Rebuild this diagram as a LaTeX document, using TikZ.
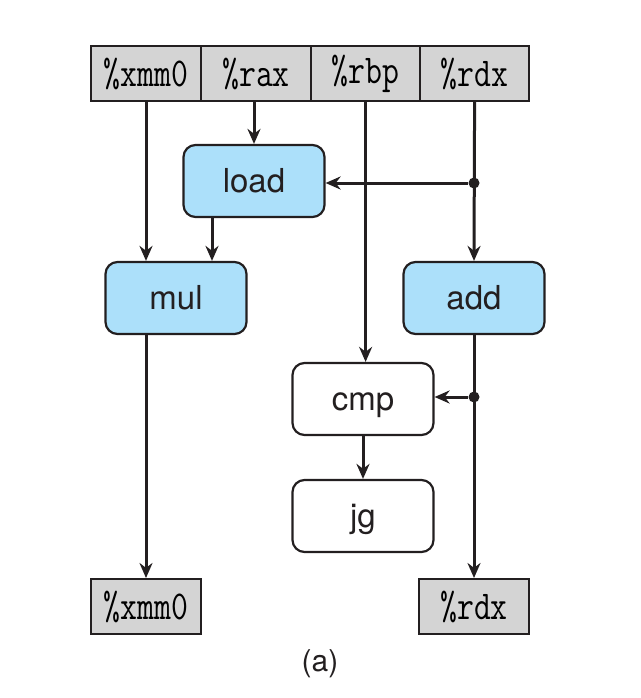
\documentclass[tikz,border=0pt]{standalone}
\usepackage{fontspec}
\setsansfont{TeX Gyre Heros}
\usetikzlibrary{arrows.meta,positioning}
\definecolor{opblue}{RGB}{172,224,250}
\definecolor{reggray}{RGB}{212,212,212}
\definecolor{ink}{RGB}{35,31,32}
\newcommand{\regtxt}[1]{\scalebox{0.8}[1]{\fontsize{41}{41}\selectfont\ttfamily #1}}
\begin{document}
\begin{tikzpicture}[x=1pt,y=-1pt,
  reg/.style={draw=ink,line width=2.2pt,fill=reggray,inner sep=0pt,anchor=north west},
  opbox/.style={draw=ink,line width=2.2pt,rounded corners=12pt,inner sep=0pt,
     minimum width=141pt,minimum height=72pt,text height=23pt,text depth=0pt,
     font=\sffamily\fontsize{33}{33}\selectfont,text=ink},
  blueop/.style={opbox,fill=opblue},
  whiteop/.style={opbox,fill=white},
  flow/.style={draw=ink,line width=3pt,-{Stealth[length=15pt,width=13pt]}},
  junction/.style={circle,fill=ink,inner sep=0pt,minimum size=11pt}]
\useasboundingbox (0,0) rectangle (640,698);
% top registers
\node[reg,minimum width=110pt,minimum height=55pt] (xin) at (90,45) {\regtxt{\%xmm0}};
\node[reg,minimum width=110pt,minimum height=55pt] (rax) at (200,45) {\regtxt{\%rax}};
\node[reg,minimum width=109pt,minimum height=55pt] (rbp) at (310,45) {\regtxt{\%rbp}};
\node[reg,minimum width=109pt,minimum height=55pt] (rin) at (419,45) {\regtxt{\%rdx}};
% operations
\node[blueop] (load) at (254,181) {load};
\node[blueop] (mul) at (176,298) {mul};
\node[blueop] (add) at (474,298) {add};
\node[whiteop] (cmp) at (363,399) {cmp};
\node[whiteop] (jg) at (363,516) {jg};
% bottom registers
\node[reg,minimum width=110pt,minimum height=55pt] (xout) at (90,578) {\regtxt{\%xmm0}};
\node[reg,minimum width=110pt,minimum height=55pt] (rout) at (418,578) {\regtxt{\%rdx}};
% junctions
\node[junction] (j1) at (474,183) {};
\node[junction] (j2) at (474,397) {};
% connectors
\draw[flow] (xin.south -| 146,0) -- (mul.north -| 146,0);
\draw[flow] (rax.south -| load.north) -- (load.north);
\draw[flow] (rbp.south) -- (cmp.north -| rbp.south);
\draw[flow] (rin.south) -- (add.north);
\draw[flow] (j1) -- (load.east |- j1);
\draw[flow] (j2) -- (cmp.east |- j2);
\draw[flow] (load.south -| 212,0) -- (mul.north -| 212,0);
\draw[flow] (mul.south -| 146,0) -- (xout.north -| 146,0);
\draw[flow] (add.south) -- (rout.north -| add.south);
\draw[flow] (cmp.south) -- (jg.north);
\node[font=\sffamily\fontsize{30}{30}\selectfont,text=ink] (cap) at (320,664) {(a)};
\end{tikzpicture}
\end{document}
